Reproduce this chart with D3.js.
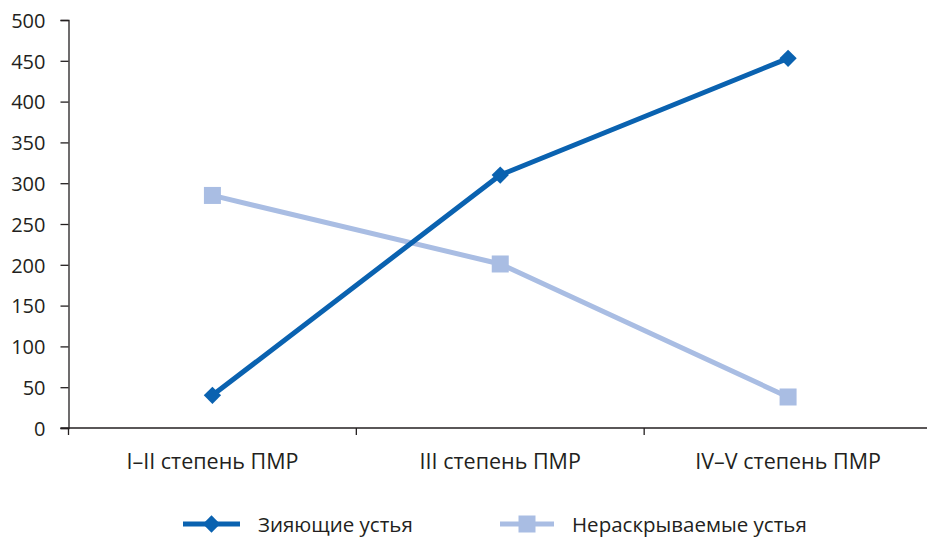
<!DOCTYPE html>
<html>
<head>
<meta charset="utf-8">
<script src="https://cdn.jsdelivr.net/npm/d3@7/dist/d3.min.js"></script>
<style>
  html, body { margin: 0; padding: 0; background: #fff; }
  svg text { font-family: "Open Sans", "Noto Sans", sans-serif; fill: #231f20; }
</style>
</head>
<body>
<svg id="chart" width="927" height="537"></svg>
<script>
// Categories and series values
const categories = ["I–II степень ПМР", "III степень ПМР", "IV–V степень ПМР"];
const gapingValues = [40, 310, 453];      // Зияющие устья
const closedValues = [285, 201, 38];      // Нераскрываемые устья
const yTicks = [0, 50, 100, 150, 200, 250, 300, 350, 400, 450, 500];
const seriesNames = ["Зияющие устья", "Нераскрываемые устья"];

const darkBlue = "#0a62b0";
const lightBlue = "#a9bde3";

const svg = d3.select("#chart");
const margin = { left: 68.5, right: -5, top: 20, bottom: 109 };
const W = 927, H = 537;

const x = d3.scaleBand()
  .domain(categories)
  .range([margin.left, W - margin.right])
  .paddingInner(0).paddingOuter(0);

const y = d3.scaleLinear()
  .domain([0, 500])
  .range([H - margin.bottom, margin.top]);

// Y axis
const yAxis = d3.axisLeft(y).tickValues(yTicks).tickSize(8).tickPadding(15);
const gy = svg.append("g").attr("transform", `translate(${margin.left},0)`).call(yAxis);
gy.select(".domain").attr("stroke", "#231f20").attr("stroke-width", 1.3);
gy.selectAll(".tick line").attr("stroke", "#231f20").attr("stroke-width", 1.3);
gy.selectAll(".tick text").attr("font-size", 20).attr("fill", "#231f20")
  .attr("dy", "0.36em")
  .style("font-family", "'Open Sans', sans-serif");

// X axis: ticks at band boundaries
const xAxisG = svg.append("g").attr("transform", `translate(0,${y(0)})`);
xAxisG.append("line")
  .attr("x1", margin.left - 8).attr("x2", W)
  .attr("stroke", "#231f20").attr("stroke-width", 1.3);
const boundaries = categories.map(c => x(c));
xAxisG.selectAll("line.tick").data(boundaries).enter().append("line")
  .attr("class", "tick")
  .attr("x1", d => d).attr("x2", d => d)
  .attr("y1", 0).attr("y2", 7)
  .attr("stroke", "#231f20").attr("stroke-width", 1.3);
xAxisG.selectAll("text").data(categories).enter().append("text")
  .attr("x", d => x(d) + x.bandwidth() / 2)
  .attr("y", 41)
  .attr("text-anchor", "middle")
  .attr("font-size", 21.5)
  .text(d => d);

const cx = c => x(c) + x.bandwidth() / 2;

const line = d3.line().x(d => cx(d.c)).y(d => y(d.v));

const gapData = categories.map((c, i) => ({ c, v: gapingValues[i] }));
const closedData = categories.map((c, i) => ({ c, v: closedValues[i] }));

// Light series first (drawn beneath)
svg.append("path").datum(closedData)
  .attr("d", line).attr("fill", "none")
  .attr("stroke", lightBlue).attr("stroke-width", 5);
svg.append("path").datum(gapData)
  .attr("d", line).attr("fill", "none")
  .attr("stroke", darkBlue).attr("stroke-width", 5);

const sqSize = 17;
svg.selectAll("rect.sq").data(closedData).enter().append("rect")
  .attr("class", "sq")
  .attr("x", d => cx(d.c) - sqSize / 2)
  .attr("y", d => y(d.v) - sqSize / 2)
  .attr("width", sqSize).attr("height", sqSize)
  .attr("fill", lightBlue);

const diamond = d3.symbol().type(d3.symbolDiamond2).size(190);
svg.selectAll("path.dm").data(gapData).enter().append("path")
  .attr("class", "dm")
  .attr("transform", d => `translate(${cx(d.c)},${y(d.v)})`)
  .attr("d", diamond)
  .attr("fill", darkBlue);

// Legend
const legendY = 524;
const lg = svg.append("g");
lg.append("line").attr("x1", 183).attr("x2", 240).attr("y1", legendY).attr("y2", legendY)
  .attr("stroke", darkBlue).attr("stroke-width", 5);
lg.append("path").attr("transform", `translate(211.5,${legendY})`).attr("d", diamond).attr("fill", darkBlue);
lg.append("text").attr("x", 258).attr("y", 532).attr("font-size", 20.5)
  .text(seriesNames[0]);

lg.append("line").attr("x1", 500).attr("x2", 554).attr("y1", legendY).attr("y2", legendY)
  .attr("stroke", lightBlue).attr("stroke-width", 5);
lg.append("rect").attr("x", 527 - sqSize / 2).attr("y", legendY - sqSize / 2)
  .attr("width", sqSize).attr("height", sqSize).attr("fill", lightBlue);
lg.append("text").attr("x", 572).attr("y", 532).attr("font-size", 20.5)
  .text(seriesNames[1]);
</script>
</body>
</html>
